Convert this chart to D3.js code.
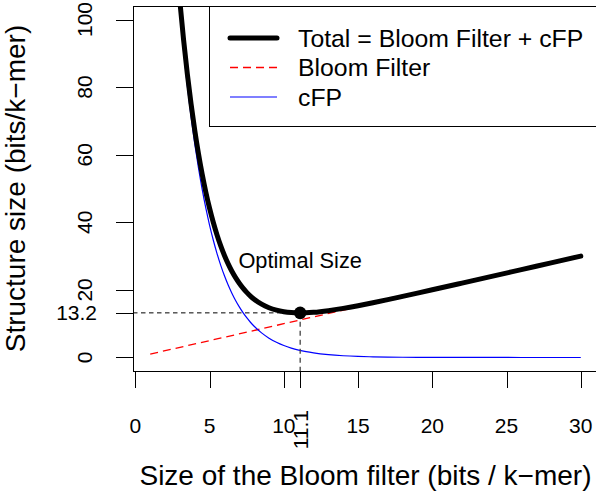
<!DOCTYPE html>
<html><head><meta charset="utf-8">
<script src="https://cdn.jsdelivr.net/npm/d3@7"></script>
<style>body{margin:0;background:#fff}svg{display:block}text{font-family:"Liberation Sans",Arial,Helvetica,sans-serif;fill:#000}</style>
</head><body>
<script>
// ---- data ----
const bloomSize = [1,1.5,2,2.5,2.75,3,3.25,3.5,3.75,4,4.25,4.5,4.75,5,5.25,5.5,5.75,6,6.25,6.5,6.75,7,7.25,7.5,7.75,8,8.5,9,9.5,10,10.5,11,11.5,12,13,14,15,16,17,18,19,20,22,24,26,28,30];
const cfpValues = [267.2,210.1,165.3,130.0,115.3,102.2,90.64,80.38,71.28,63.22,56.06,49.72,44.09,39.10,34.68,30.75,27.27,24.18,21.45,19.02,16.87,14.96,13.26,11.76,10.43,9.251,7.276,5.722,4.500,3.539,2.783,2.189,1.721,1.354,0.837,0.518,0.320,0.198,0.123,0.076,0.047,0.029,0.011,0.004,0.002,0.001,0.000];
const totalValues = [268.2,211.6,167.3,132.5,118.1,105.2,93.89,83.88,75.03,67.22,60.31,54.22,48.84,44.10,39.93,36.25,33.02,30.18,27.70,25.52,23.62,21.96,20.51,19.26,18.18,17.25,15.78,14.72,14.00,13.54,13.28,13.19,13.22,13.35,13.84,14.52,15.32,16.20,17.12,18.08,19.05,20.03,22.01,24.00,26.00,28.00,30.00];
const bloomLineX = [1, 30];
const bloomLineY = [1, 30];
const optimalX = 11.1;
const optimalY = 13.2;
const xTicks = [0,5,10,15,20,25,30];
const yTicks = [0,20,40,60,80,100];
const legendLabels = ["Total = Bloom Filter + cFP","Bloom Filter","cFP"];
const xTitle = "Size of the Bloom filter (bits / k\u2212mer)";
const yTitle = "Structure size (bits/k\u2212mer)";
const annotation = "Optimal Size";

// ---- layout ----
const W = 596, H = 492;
const L = 133, R = 598, T = 6, B = 371;
const x = d3.scaleLinear().domain([-0.16, 31.16]).range([L, R]);
const y = d3.scaleLinear().domain([-4, 104]).range([B, T]);

const svg = d3.select("body").append("svg").attr("width", W).attr("height", H);
svg.append("rect").attr("width", W).attr("height", H).attr("fill", "#fff");
svg.append("defs").append("clipPath").attr("id","clip")
  .append("rect").attr("x", L).attr("y", T).attr("width", R-L).attr("height", B-T);

const plot = svg.append("g").attr("clip-path","url(#clip)");
const line = d3.line().x(d=>x(d[0])).y(d=>y(d[1])).curve(d3.curveMonotoneX);

// Bloom filter (red dashed)
plot.append("path").datum(d3.zip(bloomLineX, bloomLineY))
  .attr("d", d3.line().x(d=>x(d[0])).y(d=>y(d[1])))
  .attr("fill","none").attr("stroke","#ff0000").attr("stroke-width",1.3).attr("stroke-dasharray","8,5");
// cFP (blue)
plot.append("path").datum(d3.zip(bloomSize, cfpValues)).attr("d", line)
  .attr("fill","none").attr("stroke","#0000ff").attr("stroke-width",1.2);
// guides
plot.append("line").attr("x1", L).attr("x2", x(optimalX)).attr("y1", y(optimalY)).attr("y2", y(optimalY))
  .attr("stroke","#000").attr("stroke-width",1).attr("stroke-dasharray","4.5,3.5");
svg.append("line").attr("x1", x(optimalX)).attr("x2", x(optimalX)).attr("y1", y(optimalY)).attr("y2", B)
  .attr("stroke","#444").attr("stroke-width",1.3).attr("stroke-dasharray","5,4");
// total (black thick)
plot.append("path").datum(d3.zip(bloomSize, totalValues)).attr("d", line)
  .attr("fill","none").attr("stroke","#000").attr("stroke-width",5).attr("stroke-linejoin","round").attr("stroke-linecap","round");
// optimal point
svg.append("circle").attr("cx", x(optimalX)).attr("cy", y(optimalY)).attr("r", 6.3).attr("fill","#000");

// box
svg.append("rect").attr("x", L+0.5).attr("y", T+0.5).attr("width", R-L).attr("height", B-T)
  .attr("fill","none").attr("stroke","#000").attr("stroke-width",1);

// x axis ticks
const tickLen = 17;
const xAll = xTicks.concat([optimalX]);
svg.selectAll(".xt").data(xAll).enter().append("line")
  .attr("x1", d=>Math.round(x(d))+0.5).attr("x2", d=>Math.round(x(d))+0.5)
  .attr("y1", B).attr("y2", B+tickLen).attr("stroke","#000").attr("stroke-width",1);
svg.selectAll(".xl").data(xTicks).enter().append("text")
  .attr("x", d=>x(d)).attr("y", 433).attr("text-anchor","middle").attr("font-size",21).text(d=>d);
svg.append("text").attr("transform", `translate(${x(optimalX)+7.5},410) rotate(-90)`)
  .attr("text-anchor","end").attr("font-size",21).text(optimalX.toFixed(1));

// y axis ticks
const yAll = yTicks.concat([optimalY]);
svg.selectAll(".yt").data(yAll).enter().append("line")
  .attr("x1", L-tickLen).attr("x2", L)
  .attr("y1", d=>Math.round(y(d))+0.5).attr("y2", d=>Math.round(y(d))+0.5).attr("stroke","#000").attr("stroke-width",1);
svg.selectAll(".yl").data(yTicks).enter().append("text")
  .attr("transform", d=>`translate(92,${y(d)}) rotate(-90)`)
  .attr("text-anchor","middle").attr("font-size",21).text(d=>d);
svg.append("text").attr("x", 97).attr("y", y(optimalY)).attr("dy","0.36em")
  .attr("text-anchor","end").attr("font-size",21).text(optimalY.toFixed(1));

// titles
svg.append("text").attr("x", (L+R)/2).attr("y", 485).attr("text-anchor","middle").attr("font-size",28).text(xTitle);
svg.append("text").attr("transform", `translate(24.5,${(T+B)/2}) rotate(-90)`)
  .attr("text-anchor","middle").attr("font-size",28).text(yTitle);

// annotation
svg.append("text").attr("x", x(optimalX)).attr("y", 268).attr("text-anchor","middle").attr("font-size",21.8).text(annotation);

// legend
const lg = svg.append("g");
lg.append("rect").attr("x", 209.5).attr("y", T+0.5).attr("width", 400).attr("height", 120)
  .attr("fill","#fff").attr("stroke","#000").attr("stroke-width",1);
const rowsY = [38, 67.5, 97];
const styles = [
  {c:"#000", w:5, dash:null},
  {c:"#ff0000", w:1.3, dash:"8,5"},
  {c:"#0000ff", w:1.2, dash:null}
];
legendLabels.forEach((lab,i)=>{
  const s = styles[i];
  const ln = lg.append("line").attr("x1", 230).attr("x2", 277).attr("y1", rowsY[i]).attr("y2", rowsY[i])
    .attr("stroke", s.c).attr("stroke-width", s.w).attr("stroke-linecap", i===0?"round":"butt");
  if (s.dash) ln.attr("stroke-dasharray", s.dash);
  lg.append("text").attr("x", 298).attr("y", rowsY[i]).attr("dy","0.36em").attr("font-size",24.8).text(lab);
});
</script>
</body></html>
